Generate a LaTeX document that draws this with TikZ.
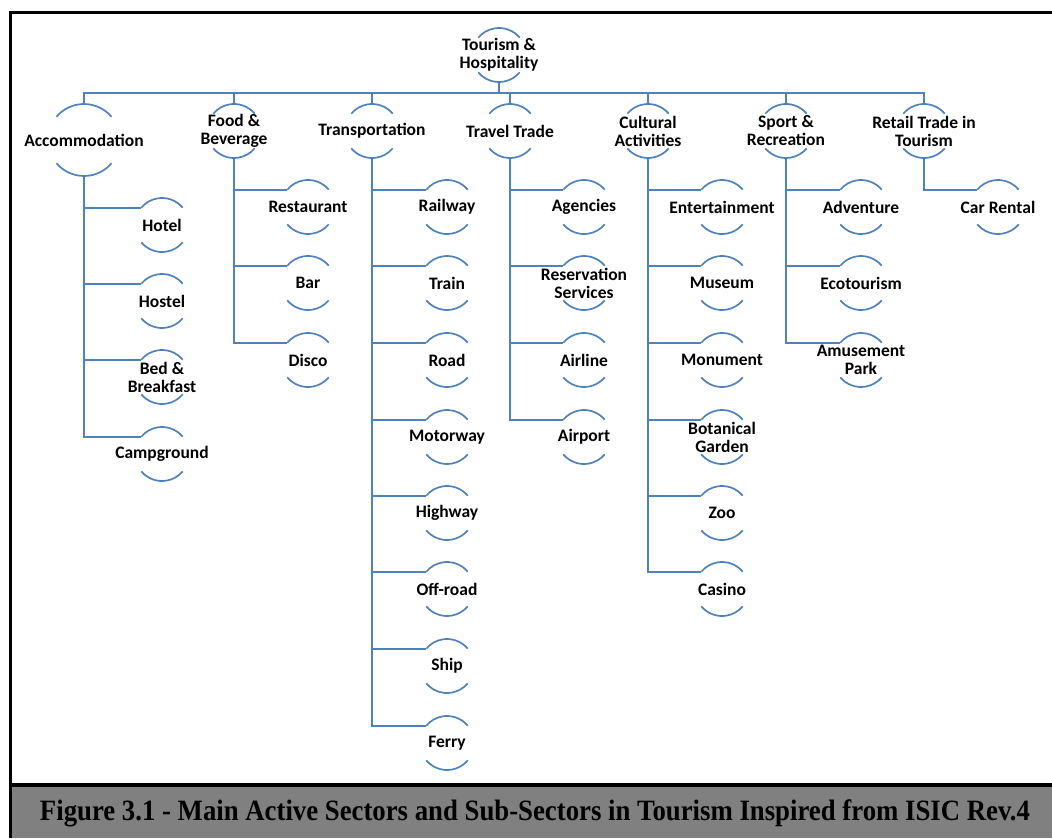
\documentclass[tikz,border=0pt]{standalone}
\usepackage{fontspec}
\setmainfont{Carlito}
\newfontfamily\capfont{Liberation Serif}
\usepackage{graphicx}
\definecolor{sablue}{RGB}{79,129,189}
\tikzset{
  ring/.style={circle, minimum size=54pt, inner sep=0pt, outer sep=0pt},
  bigring/.style={circle, minimum size=72pt, inner sep=0pt, outer sep=0pt},
  lbl/.style={font=\bfseries\fontsize{17.5}{18}\selectfont, align=center, inner sep=0pt, text=black},
  conn/.style={draw=sablue, line width=1.9pt},
  arcl/.style={draw=sablue, line width=1.7pt},
}
\newcommand{\rnode}[4]{\node[ring, label={[lbl]center:{#4}}] (#1) at (#2,#3) {};}
\begin{document}
\begin{tikzpicture}[x=1pt,y=-1pt]
\useasboundingbox (0,0) rectangle (1052,838);
% frame and caption
\fill[gray] (10,787) rectangle (1052,838);
\draw[line width=4pt] (9,785) -- (1052,785);
\draw[line width=3pt] (10.5,838) -- (10.5,12) -- (1052,12);
\node[inner sep=0pt] (cap) at (535,813) {\resizebox{990pt}{\height}{\capfont\bfseries\fontsize{29.5}{31}\selectfont Figure 3.1 - Main Active Sectors and Sub-Sectors in Tourism Inspired from ISIC Rev.4}};

% root
\rnode{root}{499}{55}{Tourism \&\\Hospitality}
\coordinate (busy) at (0,93);
% level 1
\node[bigring, label={[lbl]center:{Accommodation}}] (acc) at (84,140) {};
\rnode{food}{234}{131}{Food \&\\Beverage}
\rnode{trans}{372}{131}{Transportation}
\rnode{travel}{510}{131}{Travel Trade}
\rnode{cult}{648}{131}{Cultural\\Activities}
\rnode{sport}{786}{131}{Sport \&\\Recreation}
\rnode{retail}{924}{131}{Retail Trade in\\Tourism}
% accommodation children
\rnode{hotel}{162}{225}{Hotel}
\rnode{hostel}{162}{301}{Hostel}
\rnode{bnb}{162}{377}{Bed \&\\Breakfast}
\rnode{camp}{162}{454}{Campground}
% food children
\rnode{rest}{308}{207}{Restaurant}
\rnode{bar}{308}{283}{Bar}
\rnode{disco}{308}{360}{Disco}
% transport children
\rnode{rail}{447}{207}{Railway}
\rnode{train}{447}{283}{Train}
\rnode{road}{447}{360}{Road}
\rnode{motor}{447}{437}{Motorway}
\rnode{high}{447}{513}{Highway}
\rnode{off}{447}{589}{Off-road}
\rnode{ship}{447}{666}{Ship}
\rnode{ferry}{447}{743}{Ferry}
% travel trade children
\rnode{agen}{584}{207}{Agencies}
\rnode{reserv}{584}{283}{Reservation\\Services}
\rnode{airl}{584}{360}{Airline}
\rnode{airp}{584}{437}{Airport}
% cultural children
\rnode{ent}{722}{207}{Entertainment}
\rnode{mus}{722}{283}{Museum}
\rnode{mon}{722}{360}{Monument}
\rnode{bot}{722}{437}{Botanical\\Garden}
\rnode{zoo}{722}{513}{Zoo}
\rnode{casino}{722}{589}{Casino}
% sport children
\rnode{adv}{861}{207}{Adventure}
\rnode{eco}{861}{283}{Ecotourism}
\rnode{amuse}{861}{360}{Amusement\\Park}
% retail children
\rnode{car}{998}{207}{Car Rental}

% arcs
\foreach \n in {root,food,trans,travel,cult,sport,retail,hotel,hostel,bnb,camp,rest,bar,disco,rail,train,road,motor,high,off,ship,ferry,agen,reserv,airl,airp,ent,mus,mon,bot,zoo,casino,adv,eco,amuse,car}{
  \draw[arcl] (\n.40) arc[start angle=40,end angle=140,radius=27pt];
  \draw[arcl] (\n.220) arc[start angle=220,end angle=320,radius=27pt];
}
\draw[arcl] (acc.40) arc[start angle=40,end angle=140,radius=36pt];
\draw[arcl] (acc.220) arc[start angle=220,end angle=320,radius=36pt];

% root connectors
\foreach \n in {acc,food,trans,travel,cult,sport,retail}{
  \draw[conn] (root.south) -- (root.south |- busy) -| (\n.north);
}
% child connectors
\foreach \p/\c in {acc/hotel,acc/hostel,acc/bnb,acc/camp,
  food/rest,food/bar,food/disco,
  trans/rail,trans/train,trans/road,trans/motor,trans/high,trans/off,trans/ship,trans/ferry,
  travel/agen,travel/reserv,travel/airl,travel/airp,
  cult/ent,cult/mus,cult/mon,cult/bot,cult/zoo,cult/casino,
  sport/adv,sport/eco,sport/amuse,
  retail/car}{
  \draw[conn] (\p.south) |- (\c.140);
}
\end{tikzpicture}
\end{document}
